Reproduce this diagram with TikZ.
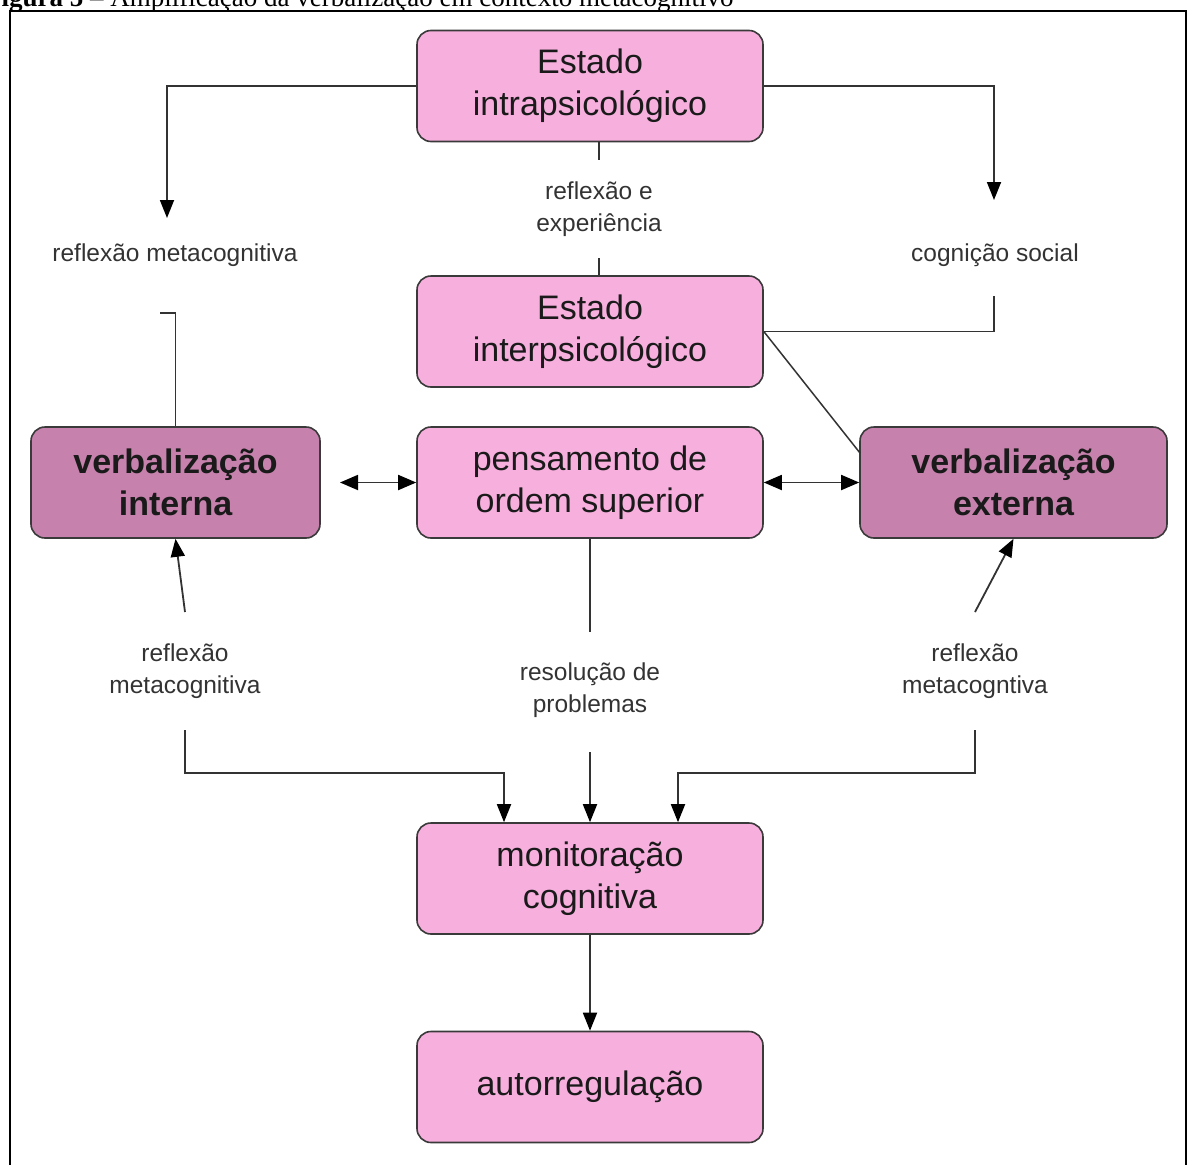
\documentclass[tikz,border=0pt]{standalone}
\usepackage{fontspec}
\setmainfont{Liberation Sans}
\newfontfamily\capfont{Liberation Serif}
\usetikzlibrary{arrows.meta}
\definecolor{pinkA}{HTML}{F7B0DE}
\definecolor{pinkB}{HTML}{C682AD}
\definecolor{boxline}{HTML}{3A3A3A}
\definecolor{connc}{HTML}{333333}
\definecolor{txt}{HTML}{1A1A1A}
\tikzset{
  box/.style={draw=boxline, line width=1.6pt, rounded corners=14pt, fill=pinkA,
    minimum width=346pt, minimum height=111pt, align=center, text=txt,
    inner sep=0pt, font=\fontsize{34}{42}\selectfont},
  darkbox/.style={box, fill=pinkB, font=\fontsize{34}{42}\selectfont\bfseries},
  lbl/.style={align=center, text=connc, inner sep=0pt, font=\fontsize{24.5}{32}\selectfont},
  conn/.style={draw=connc, line width=1.8pt},
  arr/.style={conn, -{Triangle[length=18pt,width=14pt,color=black]}},
  darr/.style={conn, {Triangle[length=18pt,width=15pt,color=black]}-{Triangle[length=18pt,width=15pt,color=black]}}
}
\begin{document}
\begin{tikzpicture}[x={(1pt,0)}, y={(0,-1pt)}]
\useasboundingbox (0,0) rectangle (1187,1165);
\fill[white] (0,0) rectangle (1187,1165);
% caption (cut off at top, as in the reference)
\node[anchor=base west, inner sep=0pt, font=\fontsize{27}{30}\selectfont\capfont] (cap) at (-15,6)
  {\textbf{Figura 5} – Amplificação da verbalização em contexto metacognitivo};
% frame
\draw[line width=2.5pt] (10,11) rectangle (1186,1185);

% boxes
\node[box] (intra) at (590,86) {Estado\\intrapsicológico};
\node[box] (inter) at (590,331.5) {Estado\\interpsicológico};
\node[box] (pens) at (590,482.5) {pensamento de\\ordem superior};
\node[darkbox, minimum width=289pt] (vint) at (175.5,482.5) {verbalização\\interna};
\node[darkbox, minimum width=307pt] (vext) at (1013.5,482.5) {verbalização\\externa};
\node[box] (mon) at (590,878.5) {monitoração\\cognitiva};
\node[box] (auto) at (590,1087) {autorregulação};

% labels
\node[lbl] (l1) at (175,255) {reflexão metacognitiva};
\node[lbl] (l2) at (599,209) {reflexão e\\experiência};
\node[lbl] (l3) at (995,255) {cognição social};
\node[lbl] (l4) at (185,671) {reflexão\\metacognitiva};
\node[lbl] (l5) at (590,690) {resolução de\\problemas};
\node[lbl] (l6) at (975,671) {reflexão\\metacogntiva};

% free-end coordinates
\coordinate (a1) at (167,218);
\coordinate (a2) at (994,200);
\coordinate (c3a) at (599,160);
\coordinate (c3b) at (599,258);
\coordinate (c4) at (994,296);
\coordinate (d5) at (860,453);
\coordinate (h6) at (160,313);
\coordinate (c7) at (340,482.5);
\coordinate (c8) at (590,632);
\coordinate (c9) at (590,752);
\coordinate (c10) at (185,612);
\coordinate (c11) at (185,730);
\coordinate (m1) at (504,773);
\coordinate (c12) at (975,612);
\coordinate (c13) at (975,730);
\coordinate (m2) at (678,773);

% connectors
\draw[arr] (intra.west) -| (a1);
\draw[arr] (intra.east) -| (a2);
\draw[conn] (intra.south -| c3a) -- (c3a);
\draw[conn] (c3b) -- (inter.north -| c3b);
\draw[conn] (c4) |- (inter.east);
\draw[conn, line width=1.5pt] (inter.east) -- (d5);
\draw[conn] (h6) -| (vint.north);
\draw[darr] (c7) -- (pens.west);
\draw[darr] (pens.east) -- (vext.west);
\draw[conn] (pens.south) -- (c8);
\draw[arr] (c9) -- (mon.north);
\draw[arr] (c10) -- (vint.south);
\draw[arr] (c11) |- (m1) -- (mon.north -| m1);
\draw[arr] (c12) -- (vext.south);
\draw[arr] (c13) |- (m2) -- (mon.north -| m2);
\draw[arr] (mon.south) -- (auto.north);
\end{tikzpicture}
\end{document}
